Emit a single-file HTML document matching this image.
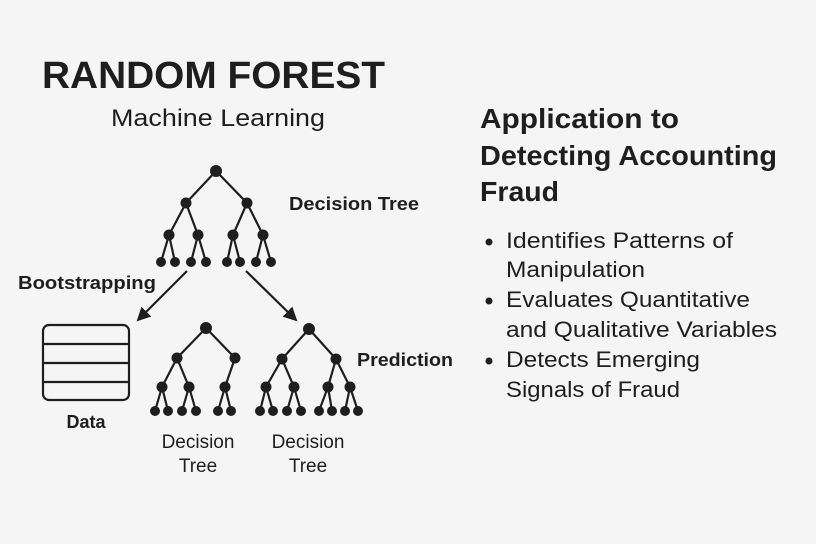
<!DOCTYPE html>
<html><head><meta charset="utf-8"><style>
html,body{margin:0;padding:0;background:#f5f5f5}
svg{display:block}
text{font-family:"Liberation Sans",sans-serif;fill:#1e1e1e}
</style></head><body>
<svg width="816" height="544" viewBox="0 0 816 544" xmlns="http://www.w3.org/2000/svg">
<rect width="816" height="544" fill="#f5f5f5"/>
<defs><marker id="ah" markerWidth="14" markerHeight="14" refX="12" refY="7" orient="auto" markerUnits="userSpaceOnUse" viewBox="0 0 14 14"><path d="M0,0 L14,7 L0,14 Z" fill="#1e1e1e"/></marker></defs>
<text x="42" y="88" font-size="38" font-weight="bold" textLength="343" lengthAdjust="spacingAndGlyphs">RANDOM FOREST</text>
<text x="111" y="126" font-size="24" textLength="214" lengthAdjust="spacingAndGlyphs">Machine Learning</text>
<text x="289" y="210" font-size="18" font-weight="bold" textLength="130" lengthAdjust="spacingAndGlyphs">Decision Tree</text>
<text x="18" y="289" font-size="18" font-weight="bold" textLength="138" lengthAdjust="spacingAndGlyphs">Bootstrapping</text>
<text x="357" y="366" font-size="18" font-weight="bold" textLength="96" lengthAdjust="spacingAndGlyphs">Prediction</text>
<text x="86" y="428" font-size="18" font-weight="bold" text-anchor="middle">Data</text>
<text x="198" y="448" font-size="19" text-anchor="middle">Decision</text>
<text x="198" y="472" font-size="19" text-anchor="middle">Tree</text>
<text x="308" y="448" font-size="19" text-anchor="middle">Decision</text>
<text x="308" y="472" font-size="19" text-anchor="middle">Tree</text>
<g stroke="#1e1e1e" stroke-width="2.2" fill="none">
<path d="M216,171 L186,203 M216,171 L247,203 M186,203 L169,235 M186,203 L198,235 M247,203 L233,235 M247,203 L263,235
M169,235 L161,262 M169,235 L175,262 M198,235 L191,262 M198,235 L206,262 M233,235 L227,262 M233,235 L240,262 M263,235 L256,262 M263,235 L271,262"/>
<path d="M206,328 L177,358 M206,328 L235,358 M177,358 L162,387 M177,358 L189,387 M235,358 L225,387
M162,387 L155,411 M162,387 L168,411 M189,387 L182,411 M189,387 L196,411 M225,387 L218,411 M225,387 L231,411"/>
<path d="M309,329 L282,359 M309,329 L336,359 M282,359 L266,387 M282,359 L294,387 M336,359 L328,387 M336,359 L350,387
M266,387 L260,411 M266,387 L273,411 M294,387 L287,411 M294,387 L301,411 M328,387 L319,411 M328,387 L332,411 M350,387 L345,411 M350,387 L358,411"/>
<line x1="187" y1="271" x2="138" y2="320" marker-end="url(#ah)"/>
<line x1="246" y1="271" x2="296" y2="320" marker-end="url(#ah)"/>
<rect x="43" y="325" width="86" height="75" rx="6"/>
<path d="M43,344 H129 M43,363 H129 M43,382 H129"/>
</g>
<g fill="#1e1e1e">
<circle cx="216" cy="171" r="6"/><circle cx="186" cy="203" r="5.5"/><circle cx="247" cy="203" r="5.5"/>
<circle cx="169" cy="235" r="5.5"/><circle cx="198" cy="235" r="5.5"/><circle cx="233" cy="235" r="5.5"/><circle cx="263" cy="235" r="5.5"/>
<circle cx="161" cy="262" r="5"/><circle cx="175" cy="262" r="5"/><circle cx="191" cy="262" r="5"/><circle cx="206" cy="262" r="5"/>
<circle cx="227" cy="262" r="5"/><circle cx="240" cy="262" r="5"/><circle cx="256" cy="262" r="5"/><circle cx="271" cy="262" r="5"/>
<circle cx="206" cy="328" r="6"/><circle cx="177" cy="358" r="5.5"/><circle cx="235" cy="358" r="5.5"/>
<circle cx="162" cy="387" r="5.5"/><circle cx="189" cy="387" r="5.5"/><circle cx="225" cy="387" r="5.5"/>
<circle cx="155" cy="411" r="5"/><circle cx="168" cy="411" r="5"/><circle cx="182" cy="411" r="5"/><circle cx="196" cy="411" r="5"/><circle cx="218" cy="411" r="5"/><circle cx="231" cy="411" r="5"/>
<circle cx="309" cy="329" r="6"/><circle cx="282" cy="359" r="5.5"/><circle cx="336" cy="359" r="5.5"/>
<circle cx="266" cy="387" r="5.5"/><circle cx="294" cy="387" r="5.5"/><circle cx="328" cy="387" r="5.5"/><circle cx="350" cy="387" r="5.5"/>
<circle cx="260" cy="411" r="5"/><circle cx="273" cy="411" r="5"/><circle cx="287" cy="411" r="5"/><circle cx="301" cy="411" r="5"/>
<circle cx="319" cy="411" r="5"/><circle cx="332" cy="411" r="5"/><circle cx="345" cy="411" r="5"/><circle cx="358" cy="411" r="5"/>
<circle cx="489" cy="242" r="3.5"/><circle cx="489" cy="301" r="3.5"/><circle cx="489" cy="361" r="3.5"/>
</g>
<text x="480" y="128" font-size="28" font-weight="bold" textLength="199" lengthAdjust="spacingAndGlyphs">Application to</text>
<text x="480" y="165" font-size="28" font-weight="bold" textLength="297" lengthAdjust="spacingAndGlyphs">Detecting Accounting</text>
<text x="480" y="201" font-size="28" font-weight="bold" textLength="79" lengthAdjust="spacingAndGlyphs">Fraud</text>
<text x="506" y="248" font-size="22" textLength="227" lengthAdjust="spacingAndGlyphs">Identifies Patterns of</text>
<text x="506" y="277" font-size="22" textLength="139" lengthAdjust="spacingAndGlyphs">Manipulation</text>
<text x="506" y="307" font-size="22" textLength="244" lengthAdjust="spacingAndGlyphs">Evaluates Quantitative</text>
<text x="506" y="337" font-size="22" textLength="271" lengthAdjust="spacingAndGlyphs">and Qualitative Variables</text>
<text x="506" y="367" font-size="22" textLength="194" lengthAdjust="spacingAndGlyphs">Detects Emerging</text>
<text x="506" y="397" font-size="22" textLength="174" lengthAdjust="spacingAndGlyphs">Signals of Fraud</text>
</svg>
</body></html>
